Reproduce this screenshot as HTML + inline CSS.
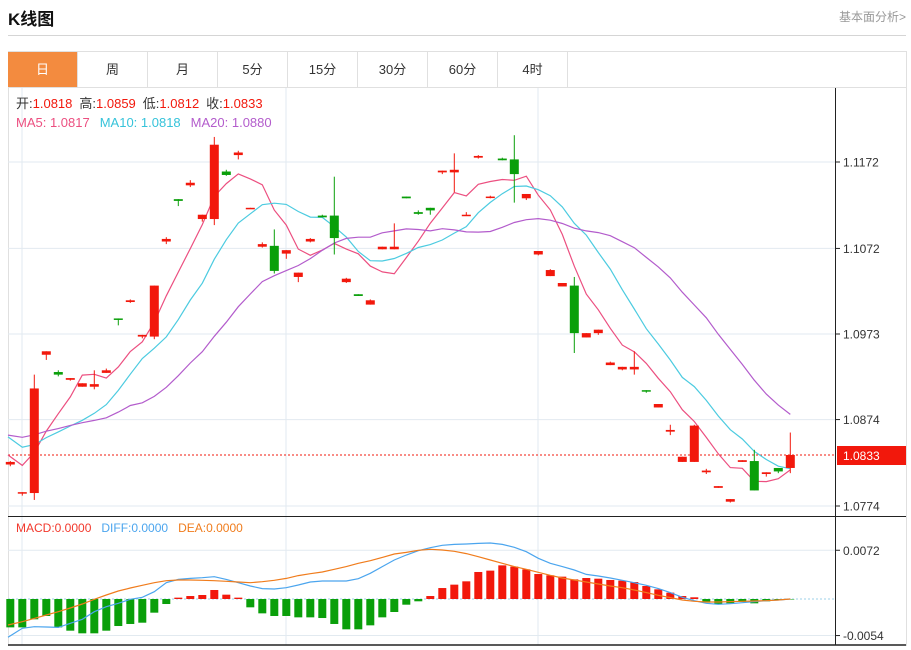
<!DOCTYPE html>
<html><head><meta charset="utf-8"><style>
body{margin:0;width:911px;height:650px;background:#fff;font-family:"Liberation Sans","Noto Sans CJK SC",sans-serif;overflow:hidden;position:relative}
.t{position:absolute}
.tab{position:absolute;top:52px;height:35px;width:70px;box-sizing:border-box;border-right:1px solid #e0e0e0;text-align:center;line-height:35px;font-size:13px;color:#333}
</style></head><body>
<div class="t" style="left:8px;top:5px;font-size:17px;font-weight:bold;color:#111">K线图</div>
<div class="t" style="left:839px;top:8px;font-size:12px;color:#999">基本面分析&gt;</div>
<div class="t" style="left:8px;top:35px;width:898px;height:1px;background:#d5d5d5"></div>
<div class="t" style="left:8px;top:51px;width:897px;height:594px;border:1px solid #e0e0e0;border-bottom:none"></div>
<div class="t" style="left:8px;top:87px;width:898px;height:1px;background:#e0e0e0"></div>
<div class="tab" style="left:8px;background:#f38b3f;color:#fff">日</div>
<div class="tab" style="left:78px">周</div>
<div class="tab" style="left:148px">月</div>
<div class="tab" style="left:218px">5分</div>
<div class="tab" style="left:288px">15分</div>
<div class="tab" style="left:358px">30分</div>
<div class="tab" style="left:428px">60分</div>
<div class="tab" style="left:498px">4时</div>
<svg id="c" width="911" height="650" style="position:absolute;left:0;top:0" xmlns="http://www.w3.org/2000/svg"></svg>
<script>
const priorCloses=[1.0840,1.0852,1.0870,1.0865,1.0848,1.0855,1.0862,1.0870,1.0858,1.0860,1.0910,1.0880,1.0872,1.0860,1.0853,1.0850,1.0835,1.0830,1.0825];
const opens=[1.0822,1.0789,1.0789,1.0949,1.0929,1.0920,1.0912,1.0912,1.0928,1.0991,1.1010,1.0970,1.0970,1.1080,1.1129,1.1145,1.1106,1.1106,1.1161,1.1180,1.1118,1.1074,1.1075,1.1066,1.1039,1.1080,1.1110,1.1110,1.1033,1.1019,1.1007,1.1071,1.1071,1.1132,1.1114,1.1119,1.1160,1.1160,1.1110,1.1177,1.1131,1.1176,1.1175,1.1130,1.1065,1.1040,1.1028,1.1029,1.0969,1.0974,1.0937,1.0932,1.0932,1.0908,1.0888,1.0860,1.0825,1.0825,1.0813,1.0795,1.0779,1.0825,1.0826,1.0811,1.0818,1.0818];
const closes=[1.0825,1.0790,1.0910,1.0953,1.0926,1.0922,1.0916,1.0915,1.0931,1.0990,1.1012,1.0972,1.1029,1.1083,1.1127,1.1148,1.1111,1.1192,1.1157,1.1183,1.1119,1.1077,1.1046,1.1070,1.1044,1.1083,1.1108,1.1084,1.1037,1.1017,1.1012,1.1074,1.1074,1.1130,1.1112,1.1116,1.1162,1.1163,1.1111,1.1179,1.1132,1.1174,1.1158,1.1135,1.1069,1.1047,1.1032,1.0974,1.0974,1.0978,1.0940,1.0935,1.0935,1.0907,1.0892,1.0862,1.0831,1.0867,1.0815,1.0797,1.0782,1.0827,1.0792,1.0813,1.0814,1.0833];
const highs=[1.0826,1.0790,1.0926,1.0953,1.0931,1.0922,1.0916,1.0931,1.0933,1.0991,1.1013,1.0972,1.1029,1.1085,1.1129,1.1151,1.1111,1.1201,1.1163,1.1185,1.1119,1.1079,1.1094,1.1070,1.1044,1.1084,1.1111,1.1155,1.1038,1.1019,1.1013,1.1074,1.1101,1.1132,1.1116,1.1119,1.1162,1.1182,1.1114,1.1180,1.1133,1.1177,1.1203,1.1135,1.1069,1.1048,1.1032,1.1039,1.0974,1.0978,1.0941,1.0935,1.0953,1.0908,1.0892,1.0868,1.0831,1.0868,1.0817,1.0797,1.0782,1.0827,1.0839,1.0813,1.0818,1.0859];
const lows=[1.0820,1.0786,1.0781,1.0943,1.0924,1.0919,1.0912,1.0909,1.0928,1.0983,1.1009,1.0968,1.0967,1.1077,1.1121,1.1143,1.1103,1.1099,1.1156,1.1175,1.1118,1.1073,1.1043,1.1060,1.1033,1.1079,1.1108,1.1065,1.1032,1.1017,1.1007,1.1071,1.1071,1.1130,1.1111,1.1111,1.1158,1.1137,1.1110,1.1176,1.1130,1.1174,1.1125,1.1128,1.1064,1.1040,1.1028,1.0951,1.0969,1.0972,1.0937,1.0931,1.0926,1.0905,1.0888,1.0856,1.0825,1.0825,1.0811,1.0795,1.0778,1.0825,1.0792,1.0808,1.0812,1.0812];
const priceTicks=[1.1172,1.1072,1.0973,1.0874,1.0774];
const lastPrice=1.0833;
const macdHist=[-4.19,-4.19,-3.00,-2.51,-4.19,-4.68,-5.07,-5.07,-4.68,-3.99,-3.69,-3.50,-2.02,-0.74,0.20,0.44,0.59,1.33,0.64,0.20,-1.23,-2.12,-2.51,-2.51,-2.71,-2.71,-2.81,-3.69,-4.48,-4.48,-3.89,-2.71,-1.92,-0.84,-0.34,0.44,1.62,2.12,2.61,3.99,4.19,4.97,4.78,4.38,3.69,3.50,3.30,2.90,3.10,3.00,2.81,2.71,2.51,1.92,1.43,0.94,0.44,0.25,-0.54,-0.74,-0.64,-0.44,-0.64,-0.34,-0.15,-0.05];
const diffLine=[-5.66,-4.33,-4.09,-4.14,-4.19,-3.59,-3.00,-1.87,-1.13,-0.64,-0.05,0.25,1.08,2.41,2.90,3.05,3.15,3.30,2.90,2.41,1.92,1.53,1.48,1.67,2.07,2.51,2.66,2.66,2.66,3.00,3.79,4.78,5.76,6.50,7.14,7.58,7.93,8.07,8.12,8.22,8.27,8.07,7.63,6.99,6.01,5.27,4.78,4.28,3.64,3.40,3.10,2.76,2.41,2.02,1.53,0.94,0.25,-0.25,-0.64,-0.79,-0.69,-0.54,-0.39,-0.25,-0.15,0];
const deaLine=[-3.84,-3.35,-2.86,-2.36,-1.87,-1.33,-0.74,-0.05,0.59,1.18,1.62,2.02,2.41,2.71,2.81,2.81,2.76,2.71,2.61,2.51,2.41,2.56,2.76,3.05,3.45,3.74,3.99,4.38,4.78,5.27,5.66,6.15,6.65,6.89,7.19,7.34,7.24,7.04,6.70,6.25,5.76,5.27,4.78,4.38,3.94,3.50,3.10,2.81,2.51,2.22,1.92,1.67,1.33,0.94,0.54,0.20,-0.15,-0.34,-0.44,-0.44,-0.39,-0.34,-0.30,-0.25,-0.15,0];
const macdTicks=[7.2,-5.4];
const macdTickLabels=["0.0072","-0.0054"];

const NS="http://www.w3.org/2000/svg";
const svg=document.getElementById('c');
function mk(tag,attrs,parent){const e=document.createElementNS(NS,tag);for(const k in attrs)e.setAttribute(k,attrs[k]);(parent||svg).appendChild(e);return e;}
const X0=10.3,STEP=12,PL=8,PR=835;
const xAt=i=>X0+STEP*i;
const yP=p=>162+(1.1172-p)*(344/0.0398);
const yM=v=>599-v*6.77;
const RED='#f2180c',GREEN='#0a9f0a';

// grid
const grid=mk('g',{});


priceTicks.forEach(p=>{mk('line',{x1:PL,x2:PR,y1:yP(p),y2:yP(p),stroke:'#e2eaf0','stroke-width':1},grid);});
macdTicks.forEach(v=>{mk('line',{x1:PL,x2:PR,y1:yM(v),y2:yM(v),stroke:'#e2eaf0','stroke-width':1},grid);});
[22,286,538].forEach(x=>{mk('line',{x1:x,x2:x,y1:88,y2:645,stroke:'#e2eaf0','stroke-width':1},grid);});

// axes
mk('line',{x1:PR+0.5,x2:PR+0.5,y1:88,y2:645,stroke:'#222','stroke-width':1});
mk('line',{x1:8,x2:906,y1:516.5,y2:516.5,stroke:'#222','stroke-width':1});
mk('line',{x1:8,x2:906,y1:645,y2:645,stroke:'#222','stroke-width':1.5});
priceTicks.forEach(p=>{
  mk('line',{x1:PR,x2:PR+5,y1:yP(p),y2:yP(p),stroke:'#222'});
  const t=mk('text',{x:843,y:yP(p)+4.5,'font-size':12,fill:'#333'});
  
  
  t.textContent=p.toFixed(4);
});
macdTicks.forEach((v,k)=>{
  mk('line',{x1:PR,x2:PR+5,y1:yM(v),y2:yM(v),stroke:'#222'});
  const t=mk('text',{x:843,y:yM(v)+4.5,'font-size':12,fill:'#333'});
  
  
  t.textContent=macdTickLabels[k];
});

// last price line
mk('line',{x1:PL,x2:PR,y1:yP(lastPrice),y2:yP(lastPrice),stroke:RED,'stroke-width':1,'stroke-dasharray':'2,2'});
const lpBox=mk('rect',{x:837,y:yP(lastPrice)-9,width:69,height:19,fill:RED});


const lpT=mk('text',{x:843,y:yP(lastPrice)+5,'font-size':12,fill:'#fff'});
lpT.textContent=lastPrice.toFixed(4);

// MA
const all=priorCloses.concat(closes);
const off=priorCloses.length;
function ma(n){return closes.map((c,i)=>{const j=i+off;let s=0,cnt=0;for(let k=Math.max(0,j-n+1);k<=j;k++){s+=all[k];cnt++;}return s/cnt;});}
[[5,'#ec4f80','ma5-line'],[10,'#4ccbe0','ma10-line'],[20,'#b35ccc','ma20-line']].forEach(([n,col,name])=>{
  const v=ma(n);
  const pl=mk('polyline',{points:v.map((p,i)=>(i===0?PL:xAt(i))+','+yP(p).toFixed(1)).join(' '),fill:'none',stroke:col,'stroke-width':1.2});
  
  
});

// candles
closes.forEach((c,i)=>{
  const o=opens[i],h=highs[i],l=lows[i];
  const col=c>=o?RED:GREEN;
  const x=xAt(i);
  const g=mk('g',{});
  
  
  mk('line',{x1:x,x2:x,y1:yP(h),y2:yP(l),stroke:col,'stroke-width':1},g);
  const top=yP(Math.max(o,c)),bot=yP(Math.min(o,c));
  mk('rect',{x:x-4.5,y:top,width:9,height:Math.max(1.5,bot-top),fill:col},g);
});

// MACD
mk('line',{x1:PL,x2:PR,y1:yM(0),y2:yM(0),stroke:'#9cd0ea','stroke-dasharray':'2,2'});
macdHist.forEach((v,i)=>{
  const x=xAt(i);const y0=yM(0),y1=yM(v);
  const r=mk('rect',{x:x-4,y:Math.min(y0,y1),width:8,height:Math.max(0.5,Math.abs(y1-y0)),fill:v>=0?RED:GREEN});
  
  
});
[[diffLine,'#4ba5ee','diff-line'],[deaLine,'#f07c1c','dea-line']].forEach(([arr,col,name])=>{
  const pl=mk('polyline',{points:arr.map((v,i)=>(i===0?PL:xAt(i))+','+yM(v).toFixed(1)).join(' '),fill:'none',stroke:col,'stroke-width':1.2});
  
  
});

// legends
function legend(y,parts,size,name){
  const t=mk('text',{x:16,y:y,'font-size':size});
  
  
  parts.forEach(([s,col,gap])=>{const sp=mk('tspan',{fill:col},t);if(gap)sp.setAttribute('dx',gap);sp.textContent=s;});
}
legend(108,[['开:','#333'],['1.0818',RED],['高:','#333',7],['1.0859',RED],['低:','#333',7],['1.0812',RED],['收:','#333',7],['1.0833',RED]],13,'ohlc-legend');
legend(127,[['MA5: 1.0817','#ec4f80'],['MA10: 1.0818','#36c3da',10],['MA20: 1.0880','#b35ccc',10]],13,'ma-legend');
legend(532,[['MACD:0.0000','#f2382c'],['DIFF:0.0000','#4ba5ee',10],['DEA:0.0000','#f07c1c',10]],12,'macd-legend');
</script>
</body></html>
